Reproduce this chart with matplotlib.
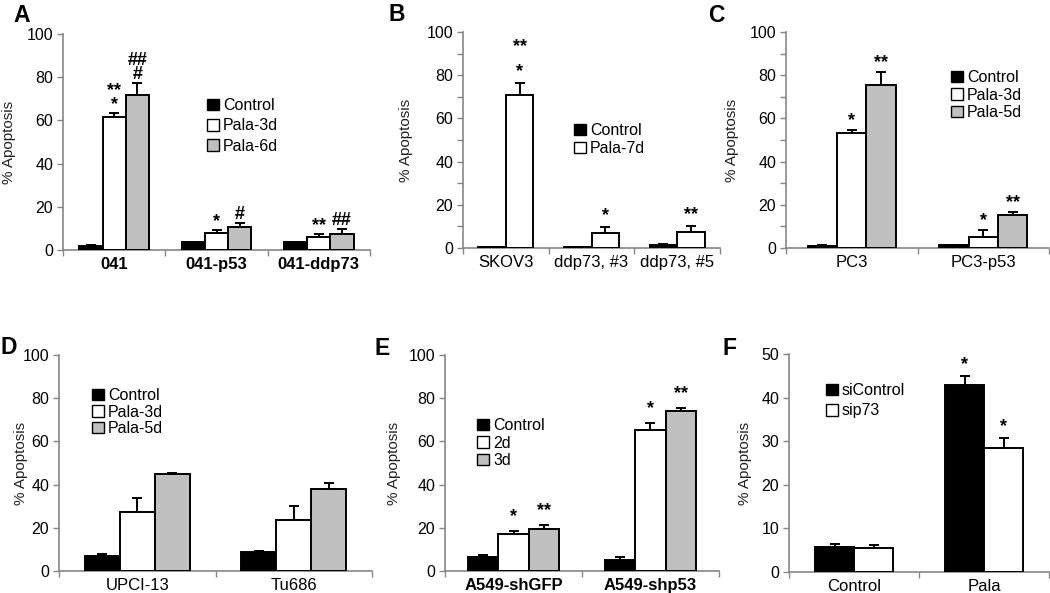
import matplotlib
matplotlib.use("Agg")
import matplotlib.pyplot as plt
from matplotlib.patches import Patch
import matplotlib.transforms as mtrans
import numpy as np

plt.rcParams['font.family'] = ['Liberation Sans', 'DejaVu Sans']

# ---------------- data ----------------
# Panel A
a_cats = ["041", "041-p53", "041-ddp73"]
a_series = ["Control", "Pala-3d", "Pala-6d"]
a_vals = [[1.8, 3.5, 3.5], [61.6, 8.0, 6.0], [71.8, 10.8, 7.4]]
a_errs = [[0.5, 0.0, 0.0], [1.8, 1.3, 1.3], [5.4, 1.8, 2.5]]
a_ann = [["", "", ""], ["**\n*", "*", "**"], ["##\n#", "#", "##"]]

# Panel B
b_cats = ["SKOV3", "ddp73, #3", "ddp73, #5"]
b_series = ["Control", "Pala-7d"]
b_vals = [[0.3, 0.3, 1.5], [70.8, 6.8, 7.5]]
b_errs = [[0.0, 0.0, 0.4], [5.7, 3.1, 2.8]]
b_ann = [["", "", ""], ["**\n*", "*", "**"]]

# Panel C
c_cats = ["PC3", "PC3-p53"]
c_series = ["Control", "Pala-3d", "Pala-5d"]
c_vals = [[1.0, 1.5], [53.4, 5.1], [75.3, 15.3]]
c_errs = [[0.5, 0.0], [1.2, 3.2], [6.3, 1.2]]
c_ann = [["", ""], ["*", "*"], ["**", "**"]]

# Panel D
d_cats = ["UPCI-13", "Tu686"]
d_series = ["Control", "Pala-3d", "Pala-5d"]
d_vals = [[7.1, 8.9], [27.2, 23.6], [44.8, 37.8]]
d_errs = [[0.6, 0.4], [6.6, 6.4], [0.4, 2.8]]

# Panel E
e_cats = ["A549-shGFP", "A549-shp53"]
e_series = ["Control", "2d", "3d"]
e_vals = [[6.6, 5.1], [17.0, 65.5], [19.3, 74.3]]
e_errs = [[0.7, 1.2], [1.7, 2.8], [2.1, 1.0]]
e_ann = [["", ""], ["*", "*"], ["**", "**"]]

# Panel F
f_cats = ["Control", "Pala"]
f_series = ["siControl", "sip73"]
f_vals = [[5.7, 42.9], [5.4, 28.4]]
f_errs = [[0.7, 2.1], [0.8, 2.4]]
f_ann = [["", "*"], ["", "*"]]

colors3 = ["#000000", "#ffffff", "#c0c0c0"]
SPINE = "#868686"

W, H = 1050, 593
fig = plt.figure(figsize=(W / 100, H / 100), dpi=100)
PX = mtrans.Affine2D().scale(1.0 / W, -1.0 / H).translate(0, 1) + fig.transFigure


def add_ax(x0, x1, ytop, ybot):
    return fig.add_axes([x0 / W, 1 - ybot / H, (x1 - x0) / W, (ybot - ytop) / H])


def panel(ax, cats, series, vals, errs, group_frac, ymax, ystep, minor,
          bold_x, ann=None, ann_gap=0.0, ann_ls=0.75, legend_xy=(0, 0),
          legend_gap=0.3, ylab_x=0):
    n = len(cats)
    k = len(series)
    bw = group_frac / k
    for j in range(k):
        xs = np.arange(n) + 0.5 - group_frac / 2 + bw * (j + 0.5)
        ax.bar(xs, vals[j], width=bw, color=colors3[j], edgecolor="black",
               linewidth=1.4, zorder=3)
        ax.errorbar(xs, vals[j], yerr=[np.zeros(n), errs[j]], fmt="none",
                    ecolor="black", elinewidth=1.4, capsize=3.5, capthick=1.4,
                    zorder=2)
        if ann is not None:
            for i in range(n):
                if ann[j][i]:
                    ax.annotate(ann[j][i], (xs[i], vals[j][i] + errs[j][i]),
                                xytext=(0, ann_gap * 0.72),
                                textcoords="offset points",
                                ha="center", va="bottom", fontsize=13,
                                fontweight="bold", linespacing=ann_ls)
    ax.set_xlim(0, n)
    ax.set_ylim(0, ymax)
    ax.set_yticks(np.arange(0, ymax + 0.1, ystep))
    if minor:
        ax.set_yticks(np.arange(0, ymax + 0.1, ystep / 2), minor=True)
    ax.set_xticks(np.arange(0, n + 1))
    ax.set_xticklabels([])
    ax.set_xticks(np.arange(n) + 0.5, minor=True)
    ax.set_xticklabels(cats, minor=True, fontsize=12,
                       fontweight="bold" if bold_x else "normal")
    ax.tick_params(axis="x", which="major", length=4, color=SPINE, width=1)
    ax.tick_params(axis="x", which="minor", length=0, pad=5)
    ax.tick_params(axis="y", which="both", length=4, color=SPINE, width=1,
                   labelsize=11.5, pad=3)
    for s in ["top", "right"]:
        ax.spines[s].set_visible(False)
    for s in ["left", "bottom"]:
        ax.spines[s].set_color(SPINE)
        ax.spines[s].set_linewidth(1.2)
    ax.set_ylabel("% Apoptosis", fontsize=11, color="#222222")
    ax.yaxis.set_label_coords(ylab_x, ax.get_position().y0 * H +
                              ax.get_position().height * H / 2, transform=None)
    # place label center in pixel coordinates
    bb = ax.get_position()
    ax.yaxis.set_label_coords(ylab_x / W, bb.y0 + bb.height / 2,
                              transform=fig.transFigure)
    handles = [Patch(facecolor=colors3[j], edgecolor="black", linewidth=1.0)
               for j in range(k)]
    ax.legend(handles, series, loc="upper left", bbox_to_anchor=legend_xy,
              bbox_transform=PX,
              frameon=False, fontsize=11.5, handlelength=0.75, handleheight=0.75,
              handletextpad=0.25, labelspacing=legend_gap, borderaxespad=0,
              borderpad=0)


axA = add_ax(63, 370, 34, 250)
panel(axA, a_cats, a_series, a_vals, a_errs, 0.68, 100, 20, False, True,
      ann=a_ann, ann_gap=0, ann_ls=0.75, legend_xy=(207, 98), legend_gap=0.34,
      ylab_x=16)

axB = add_ax(463, 720, 32, 248)
panel(axB, b_cats, b_series, b_vals, b_errs, 0.64, 100, 20, True, False,
      ann=b_ann, ann_gap=3, ann_ls=1.6, legend_xy=(574, 123), legend_gap=0.2,
      ylab_x=413)

axC = add_ax(786, 1049, 32, 248)
panel(axC, c_cats, c_series, c_vals, c_errs, 0.67, 100, 20, True, False,
      ann=c_ann, ann_gap=1, legend_xy=(951, 70), legend_gap=0.16,
      ylab_x=739)

axD = add_ax(59, 372, 355, 571)
panel(axD, d_cats, d_series, d_vals, d_errs, 0.67, 100, 20, False, False,
      legend_xy=(92, 388), legend_gap=0.1, ylab_x=28)

axE = add_ax(445, 719, 355, 571)
panel(axE, e_cats, e_series, e_vals, e_errs, 0.67, 100, 20, False, True,
      ann=e_ann, ann_gap=6, legend_xy=(477, 418), legend_gap=0.16,
      ylab_x=401)

axF = add_ax(789, 1049, 354, 572)
panel(axF, f_cats, f_series, f_vals, f_errs, 0.6, 50, 10, False, False,
      ann=f_ann, ann_gap=3, legend_xy=(826, 383), legend_gap=0.34,
      ylab_x=752)

# panel letters (left x, baseline y in pixels)
for lab, (px, py) in {"A": (13, 22), "B": (389, 21), "C": (708, 22),
                      "D": (0, 354), "E": (375, 355), "F": (722, 355)}.items():
    fig.text(px / W, 1 - py / H, lab, fontsize=16.5, fontweight="bold",
             ha="left", va="baseline")

fig.savefig("out.png", dpi=100)
